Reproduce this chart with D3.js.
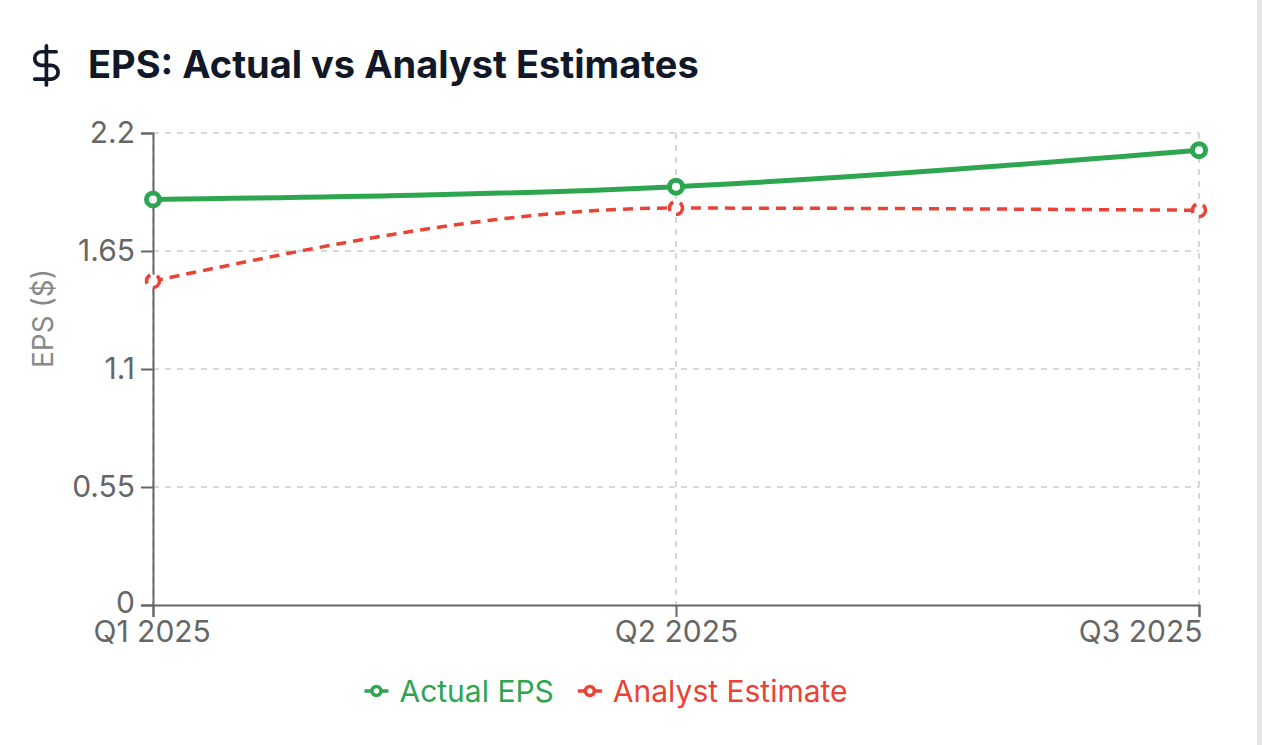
<!DOCTYPE html>
<html>
<head>
<meta charset="utf-8">
<script src="https://cdn.jsdelivr.net/npm/d3@7"></script>
<style>
  body { margin: 0; background: #fff; }
  svg { display: block; }
  text { font-family: Inter, "Noto Sans", sans-serif; }
</style>
</head>
<body>
<svg width="1262" height="745"></svg>
<script>
var quarters = ['Q1 2025', 'Q2 2025', 'Q3 2025'];
var actualEps = [1.89, 1.95, 2.12];
var estimateEps = [1.51, 1.85, 1.84];
var yTicks = [0, 0.55, 1.1, 1.65, 2.2];

var svg = d3.select('svg');

// card edge on the right
svg.append('rect')
    .attr('x', 1257).attr('y', 0)
    .attr('width', 5).attr('height', 745)
    .attr('fill', '#e5e7eb');

// title icon (dollar sign)
var icon = svg.append('g')
    .attr('transform', 'translate(23,42) scale(1.95)')
    .attr('fill', 'none')
    .attr('stroke', '#111827')
    .attr('stroke-width', 1.9)
    .attr('stroke-linecap', 'round')
    .attr('stroke-linejoin', 'round');
icon.append('line').attr('x1', 12).attr('x2', 12).attr('y1', 2).attr('y2', 22);
icon.append('path').attr('d', 'M17 5H9.5a3.5 3.5 0 0 0 0 7h5a3.5 3.5 0 0 1 0 7H6');

svg.append('text')
    .text('EPS: Actual vs Analyst Estimates')
    .attr('x', 88).attr('y', 78)
    .attr('font-size', 38)
    .attr('font-weight', 700)
    .attr('fill', '#111827');

var g = svg.append('g');

var scaleX = d3.scalePoint().domain(quarters).range([153, 1199]);
var scaleY = d3.scaleLinear().domain([0, 2.2]).range([605, 133]);

// grid
g.selectAll('.hgrid')
    .data(yTicks.filter(function(d){ return d > 0; }))
    .enter()
    .append('line')
    .attr('x1', 153).attr('x2', 1199)
    .attr('y1', function(d){ return scaleY(d); })
    .attr('y2', function(d){ return scaleY(d); })
    .attr('stroke', '#cccccc')
    .attr('stroke-width', 1.5)
    .attr('stroke-dasharray', '6 6');

g.selectAll('.vgrid')
    .data(quarters)
    .enter()
    .append('line')
    .attr('x1', function(d){ return scaleX(d); })
    .attr('x2', function(d){ return scaleX(d); })
    .attr('y1', 133).attr('y2', 605)
    .attr('stroke', '#cccccc')
    .attr('stroke-width', 1.5)
    .attr('stroke-dasharray', '6 6');

// axes
var xAxis = g.append('g')
    .attr('transform', 'translate(0,605)')
    .call(d3.axisBottom(scaleX).tickSizeOuter(0).tickSize(12).tickPadding(6));

var yAxis = g.append('g')
    .attr('transform', 'translate(153,0)')
    .call(d3.axisLeft(scaleY).tickValues(yTicks).tickFormat(function(d){ return d; }).tickSizeOuter(0).tickSize(12).tickPadding(6));

[xAxis, yAxis].forEach(function(ax){
    ax.select('.domain').attr('stroke', '#666').attr('stroke-width', 2);
    ax.selectAll('.tick line').attr('stroke', '#666').attr('stroke-width', 2);
    ax.selectAll('.tick text')
        .attr('fill', '#666')
        .attr('font-size', 30)
        .attr('font-family', 'Inter, sans-serif');
});
xAxis.selectAll('.tick text').attr('dy', '0.64em');
yAxis.selectAll('.tick text').filter(function(d){ return d == 0; }).attr('dy', '0.25em');
xAxis.selectAll('.tick text').filter(function(d, i){ return i == 0; }).attr('text-anchor', 'start').attr('dx', -60);
xAxis.selectAll('.tick text').filter(function(d, i){ return i == quarters.length - 1; }).attr('text-anchor', 'end').attr('dx', 3);

svg.append('text')
    .text('EPS ($)')
    .attr('transform', 'translate(53,368) rotate(-90)')
    .attr('font-size', 28)
    .attr('fill', '#888');

// lines
var line = d3.line()
    .x(function(d, i){ return scaleX(quarters[i]); })
    .y(function(d){ return scaleY(d); })
    .curve(d3.curveMonotoneX);

var series = [
    { name: 'Actual EPS', values: actualEps, color: '#2ea54f', width: 5, dash: null },
    { name: 'Analyst Estimate', values: estimateEps, color: '#ea4335', width: 3.5, dash: '10 7' }
];

series.forEach(function(s){
    g.append('path')
        .attr('d', line(s.values))
        .attr('fill', 'none')
        .attr('stroke', s.color)
        .attr('stroke-width', s.width)
        .attr('stroke-dasharray', s.dash);

    g.selectAll(null)
        .data(s.values)
        .enter()
        .append('circle')
        .attr('cx', function(d, i){ return scaleX(quarters[i]); })
        .attr('cy', function(d){ return scaleY(d); })
        .attr('r', 6.5)
        .attr('fill', '#fff')
        .attr('stroke', s.color)
        .attr('stroke-width', s.width)
        .attr('stroke-dasharray', s.dash);
});

// legend, centred under the chart
var legend = svg.append('g').attr('transform', 'translate(0,691)');
var cursor = 0;
series.forEach(function(s, i){
    var lg = legend.append('g').attr('transform', 'translate(' + cursor + ',0)');
    lg.append('line')
        .attr('x1', 0).attr('x2', 24)
        .attr('stroke', s.color).attr('stroke-width', 3.5);
    lg.append('circle')
        .attr('cx', 12).attr('r', 4.5)
        .attr('fill', '#fff')
        .attr('stroke', s.color).attr('stroke-width', 3.5);
    var t = lg.append('text')
        .text(s.name)
        .attr('x', 35).attr('y', 0)
        .attr('dy', '0.35em')
        .attr('font-size', 30)
        .attr('fill', s.color);
    cursor += 35 + t.node().getComputedTextLength() + 24;
});
var legendWidth = cursor - 24;
legend.attr('transform', 'translate(' + (606 - legendWidth / 2) + ',691)');
</script>
</body>
</html>
